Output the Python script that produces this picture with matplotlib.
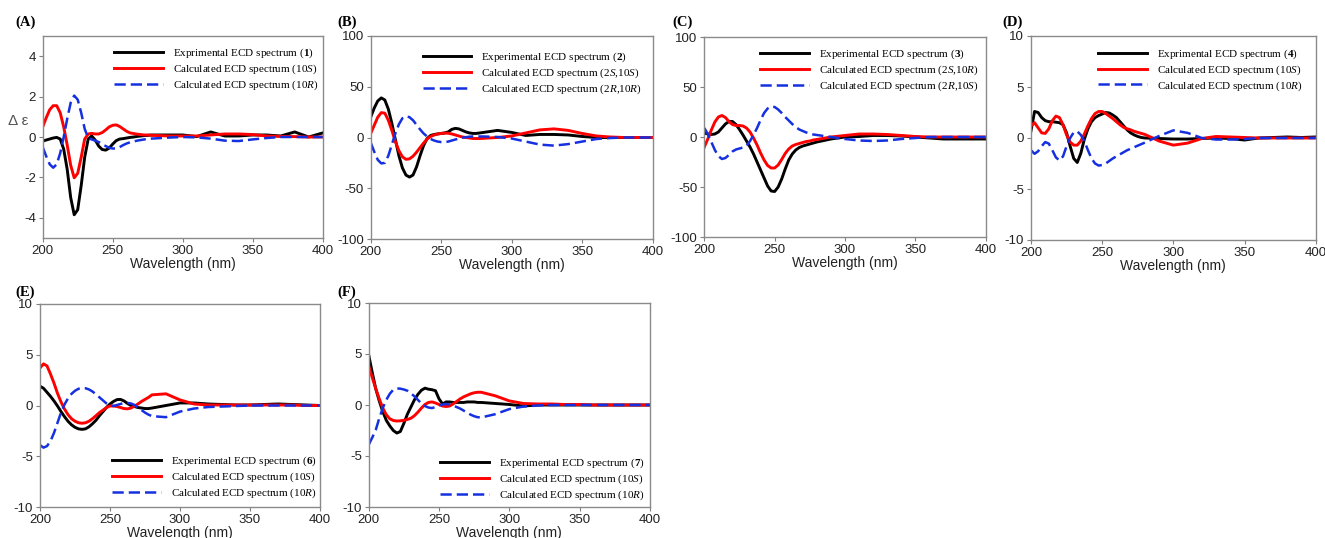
import matplotlib
matplotlib.use('Agg')
import matplotlib.pyplot as plt

plt.rcParams['font.family'] = ['Liberation Sans', 'DejaVu Sans']
plt.rcParams['axes.unicode_minus'] = False
plt.rcParams['mathtext.fontset'] = 'custom'
plt.rcParams['mathtext.rm'] = 'Liberation Serif'
plt.rcParams['mathtext.it'] = 'Liberation Serif:italic'
plt.rcParams['mathtext.bf'] = 'Liberation Serif:bold'

# 파장 격자 (nm)
wavelength = [200, 202.5, 205, 207.5, 210, 212.5, 215, 217.5, 220, 222.5,
              225, 227.5, 230, 232.5, 235, 237.5, 240, 242.5, 245, 247.5,
              250, 252.5, 255, 257.5, 260, 262.5, 265, 267.5, 270, 272.5,
              275, 277.5, 280, 290, 300, 310, 320, 330, 340, 350,
              360, 370, 380, 390, 400]

# (A)
a_exp = [-0.2, -0.15, -0.1, -0.05, -0.02, -0.1, -0.6, -1.6, -3.0, -3.85,
         -3.6, -2.4, -1.0, -0.1, 0.05, -0.15, -0.45, -0.62, -0.65, -0.55,
         -0.35, -0.18, -0.1, -0.08, -0.05, -0.02, 0.0, 0.03, 0.05, 0.07,
         0.08, 0.1, 0.1, 0.1, 0.1, 0.02, 0.25, 0.05, 0.05, 0.1,
         0.1, 0.05, 0.25, 0.0, 0.2]
a_calc_s = [0.5, 0.95, 1.35, 1.55, 1.55, 1.2, 0.5, -0.4, -1.4, -2.02,
            -1.8, -1.0, -0.1, 0.15, 0.18, 0.15, 0.15, 0.22, 0.35, 0.5,
            0.58, 0.6, 0.52, 0.4, 0.28, 0.2, 0.17, 0.14, 0.12, 0.1,
            0.1, 0.08, 0.08, 0.05, 0.05, 0.05, 0.1, 0.15, 0.15, 0.12,
            0.05, 0.03, 0.02, 0.0, 0.0]
a_calc_r = [-0.5, -0.95, -1.35, -1.52, -1.35, -0.8, 0.0, 0.9, 1.7, 2.05,
            1.85, 1.2, 0.4, -0.05, -0.12, -0.18, -0.25, -0.35, -0.45, -0.53,
            -0.57, -0.57, -0.5, -0.4, -0.32, -0.26, -0.22, -0.18, -0.15, -0.12,
            -0.1, -0.08, -0.07, -0.03, 0.0, -0.02, -0.08, -0.18, -0.2, -0.12,
            -0.05, 0.0, 0.0, 0.0, 0.0]

# (B)
b_exp = [20, 29, 36, 39, 37, 28, 14, -2, -18, -30,
         -37, -39, -37, -29, -18, -8, -1, 2, 3, 3.5,
         4, 4.5, 5.5, 8, 9, 8.5, 7, 5.5, 4.5, 4,
         4, 4.5, 5, 7, 5, 2, 3, 3, 2.5, 1,
         0, 0, 0, 0, 0]
b_calc_1 = [4, 12, 20, 24.5, 24, 17, 7, -4, -13, -19,
            -21.5, -21, -18.5, -14.5, -10, -5.5, -1.5, 1, 2.5, 3.5,
            4, 4.3, 4.2, 3.5, 2.5, 1.5, 0.5, 0, -0.5, -1,
            -1, -1, -0.8, 0, 1.5, 4.5, 7.5, 8.5, 7, 4,
            1.5, 0.5, 0, 0, 0]
b_calc_2 = [-5, -14, -22, -25.5, -25, -18, -7, 4, 13, 19,
            21, 20, 17, 12.5, 8, 4, 1, -1.5, -3, -4,
            -4.5, -4.5, -4, -3, -2, -1, -0.3, 0.3, 0.8, 1,
            1, 1, 1, 0.5, -1, -4, -7, -8, -6.5, -4,
            -1.5, -0.5, 0, 0, 0]

# (C)
c_exp = [4, 3, 2.5, 3, 5, 9, 13, 15.5, 15.5, 12.5,
         7.5, 2, -4, -10, -17, -25, -33, -41, -49, -54,
         -54.5, -50, -42, -32, -23, -17, -13, -10.5, -9, -8,
         -7, -6, -5, -2, 0, 0.5, 1.5, 1.5, 1, 0,
         -1, -2, -2, -2, -2]
c_calc_1 = [-10, -2, 7, 15, 20, 21.5, 19.5, 15.5, 12.5, 11.5,
            11.5, 11, 9, 5, -1, -8, -16, -23, -28.5, -31,
            -31, -28, -22.5, -16.5, -12, -9, -7.5, -6.5, -5.5, -4.5,
            -4, -3, -2.5, 0, 1.5, 3, 3, 2.5, 1.5, 0.5,
            0, 0, 0, 0, 0]
c_calc_2 = [9, 3, -5, -13, -19, -22, -21, -18, -14.5, -12.5,
            -11.5, -10.5, -9, -4, 2, 9, 17, 24, 28.5, 30.5,
            30, 27.5, 24, 20, 16.5, 13, 10, 7.5, 6, 4.5,
            3.5, 2.5, 2, 0, -2, -3.5, -4, -3.5, -2, -1,
            0, 0, 0, 0, 0]

# (D)
d_exp = [0.7, 2.6, 2.5, 2.0, 1.7, 1.6, 1.6, 1.55, 1.5, 1.3,
         0.5, -0.8, -2.0, -2.4, -1.5, -0.1, 0.9, 1.6, 2.0, 2.2,
         2.35, 2.5, 2.45, 2.25, 2.0, 1.6, 1.2, 0.8, 0.5, 0.3,
         0.15, 0.05, 0.0, -0.05, -0.1, -0.1, -0.05, 0.0, -0.05, -0.2,
         0.0, 0.05, 0.1, 0.05, 0.1]
d_calc_s = [1.2, 1.5, 1.0, 0.5, 0.45, 0.9, 1.7, 2.15, 2.0, 1.3,
            0.3, -0.4, -0.7, -0.7, -0.3, 0.4, 1.2, 1.9, 2.4, 2.6,
            2.6, 2.4, 2.15, 1.9, 1.6, 1.3, 1.05, 0.9, 0.8, 0.65,
            0.55, 0.45, 0.35, -0.3, -0.7, -0.5, -0.05, 0.15, 0.1, 0.05,
            0.0, 0.0, 0.0, 0.0, 0.0]
d_calc_r = [-1.2, -1.55, -1.3, -0.8, -0.4, -0.55, -1.2, -1.9, -2.2, -1.8,
            -0.8, 0.0, 0.55, 0.65, 0.3, -0.3, -1.2, -2.0, -2.5, -2.7,
            -2.65, -2.5, -2.25, -2.0, -1.8, -1.6, -1.4, -1.2, -1.05, -0.9,
            -0.75, -0.6, -0.45, 0.2, 0.75, 0.5, 0.0, -0.15, -0.15, -0.1,
            0.0, 0.0, 0.0, 0.0, 0.0]

# (E)
e_exp = [1.9, 1.7, 1.3, 0.9, 0.45, -0.05, -0.6, -1.1, -1.55, -1.9,
         -2.15, -2.3, -2.35, -2.3, -2.1, -1.8, -1.45, -1.0, -0.6, -0.2,
         0.15, 0.4, 0.58, 0.6, 0.45, 0.2, 0.0, -0.1, -0.2, -0.25,
         -0.3, -0.3, -0.25, 0.0, 0.25, 0.25, 0.15, 0.1, 0.05, 0.05,
         0.1, 0.15, 0.1, 0.05, 0.0]
e_calc_s = [3.7, 4.1, 3.9, 3.1, 2.2, 1.2, 0.35, -0.35, -0.9, -1.3,
            -1.55, -1.7, -1.75, -1.7, -1.55, -1.3, -1.0, -0.7, -0.45, -0.2,
            -0.05, -0.05, -0.1, -0.2, -0.3, -0.33, -0.25, -0.05, 0.15, 0.4,
            0.6, 0.8, 1.05, 1.15, 0.55, 0.15, 0.05, 0.05, 0.05, 0.05,
            0.05, 0.05, 0.05, 0.0, 0.0]
e_calc_r = [-3.9, -4.15, -4.0, -3.5, -2.7, -1.7, -0.7, 0.1, 0.7, 1.15,
            1.45, 1.65, 1.72, 1.7, 1.58, 1.38, 1.1, 0.8, 0.5, 0.2,
            0.0, -0.05, 0.05, 0.15, 0.25, 0.25, 0.2, 0.05, -0.2, -0.45,
            -0.7, -0.9, -1.05, -1.15, -0.6, -0.3, -0.15, -0.1, -0.05, 0.0,
            0.0, 0.0, 0.0, 0.0, 0.0]

# (F)
f_exp = [4.9, 3.2, 1.6, 0.4, -0.65, -1.5, -2.05, -2.5, -2.75, -2.6,
         -1.8, -0.9, -0.2, 0.5, 1.05, 1.45, 1.65, 1.55, 1.5, 1.4,
         0.6, 0.1, 0.3, 0.3, 0.25, 0.25, 0.25, 0.25, 0.3, 0.3,
         0.3, 0.25, 0.25, 0.15, 0.05, -0.1, 0.0, 0.0, 0.0, 0.0,
         0.0, 0.0, 0.0, 0.0, 0.0]
f_calc_s = [3.8, 2.7, 1.6, 0.6, -0.3, -0.95, -1.35, -1.52, -1.57, -1.55,
            -1.5, -1.42, -1.3, -1.05, -0.7, -0.3, 0.05, 0.25, 0.3, 0.2,
            0.05, -0.1, -0.15, -0.1, 0.1, 0.35, 0.6, 0.8, 0.95, 1.1,
            1.2, 1.25, 1.25, 0.9, 0.4, 0.15, 0.1, 0.1, 0.05, 0.05,
            0.0, 0.0, 0.0, 0.0, 0.0]
f_calc_r = [-3.9, -3.2, -2.45, -1.3, -0.3, 0.5, 1.1, 1.5, 1.63, 1.6,
            1.52, 1.4, 1.15, 0.85, 0.5, 0.15, -0.1, -0.25, -0.3, -0.2,
            -0.05, 0.05, 0.1, 0.05, -0.05, -0.2, -0.35, -0.55, -0.75, -0.95,
            -1.1, -1.2, -1.22, -0.9, -0.4, -0.15, -0.05, 0.0, 0.0, 0.0,
            0.0, 0.0, 0.0, 0.0, 0.0]

# 패널 정보: 라벨, 곡선, 범례, y 범위, y 눈금
panels = [
    ('(A)', (a_exp, a_calc_s, a_calc_r),
     ['Exprimental ECD spectrum ($\\bf{1}$)',
      'Calculated ECD spectrum (10$\\it{S}$)',
      'Calculated ECD spectrum (10$\\it{R}$)'],
     (-5, 5), [-4, -2, 0, 2, 4]),
    ('(B)', (b_exp, b_calc_1, b_calc_2),
     ['Experimental ECD spectrum ($\\bf{2}$)',
      'Calculated ECD spectrum (2$\\it{S}$,10$\\it{S}$)',
      'Calculated ECD spectrum (2$\\it{R}$,10$\\it{R}$)'],
     (-100, 100), [-100, -50, 0, 50, 100]),
    ('(C)', (c_exp, c_calc_1, c_calc_2),
     ['Experimental ECD spectrum ($\\bf{3}$)',
      'Calculated ECD spectrum (2$\\it{S}$,10$\\it{R}$)',
      'Calculated ECD spectrum (2$\\it{R}$,10$\\it{S}$)'],
     (-100, 100), [-100, -50, 0, 50, 100]),
    ('(D)', (d_exp, d_calc_s, d_calc_r),
     ['Exprimental ECD spectrum ($\\bf{4}$)',
      'Calculated ECD spectrum (10$\\it{S}$)',
      'Calculated ECD spectrum (10$\\it{R}$)'],
     (-10, 10), [-10, -5, 0, 5, 10]),
    ('(E)', (e_exp, e_calc_s, e_calc_r),
     ['Experimental ECD spectrum ($\\bf{6}$)',
      'Calculated ECD spectrum (10$\\it{S}$)',
      'Calculated ECD spectrum (10$\\it{R}$)'],
     (-10, 10), [-10, -5, 0, 5, 10]),
    ('(F)', (f_exp, f_calc_s, f_calc_r),
     ['Experimental ECD spectrum ($\\bf{7}$)',
      'Calculated ECD spectrum (10$\\it{S}$)',
      'Calculated ECD spectrum (10$\\it{R}$)'],
     (-10, 10), [-10, -5, 0, 5, 10]),
]

W, H = 1325, 538
# 축 위치 (픽셀: 왼쪽, 위, 오른쪽, 아래)
boxes = [(42.7, 36, 322.7, 238), (370.7, 36, 652.7, 239),
         (704.3, 37, 985.7, 237), (1031, 36, 1315.7, 240),
         (40, 304, 320, 507), (368.7, 303, 650, 507)]
legend_pos = [(0.255, 0.946), (0.184, 0.928), (0.199, 0.948),
              (0.234, 0.945), (0.256, 0.258), (0.254, 0.247)]
label_pos = [(15, 22), (337, 22), (672, 22), (1002, 22), (15, 292), (337, 292)]

fig = plt.figure(figsize=(W / 100, H / 100), dpi=100)
fig.patch.set_facecolor('white')

for i, (tag, curves, labels, ylim, yticks) in enumerate(panels):
    l, t, r, b = boxes[i]
    ax = fig.add_axes([l / W, 1 - b / H, (r - l) / W, (b - t) / H])
    exp, calc1, calc2 = curves
    ax.plot(wavelength, exp, color='black', lw=2.1, label=labels[0])
    ax.plot(wavelength, calc1, color='#ff0000', lw=2.1, label=labels[1])
    ax.plot(wavelength, calc2, color='#1530e0', lw=1.8,
            dashes=(4.5, 2.0), label=labels[2])
    ax.set_xlim(200, 400)
    ax.set_ylim(*ylim)
    ax.set_xticks([200, 250, 300, 350, 400])
    ax.set_yticks(yticks)
    ax.tick_params(direction='out', length=3, width=0.8, color='#808080',
                   labelsize=9.5, labelcolor='#222222', pad=2)
    for sp in ax.spines.values():
        sp.set_color('#8a8a8a')
        sp.set_linewidth(1.0)
    ax.set_xlabel('Wavelength (nm)', fontsize=10, color='#222222',
                  labelpad=0)
    ax.legend(loc='upper left', bbox_to_anchor=legend_pos[i], frameon=False,
              borderpad=0, borderaxespad=0, handlelength=4.4,
              handletextpad=0.9, labelspacing=0.22,
              prop={'family': 'Liberation Serif', 'size': 8})
    x, y = label_pos[i]
    fig.text(x / W, 1 - y / H, tag, fontsize=10.5, fontweight='bold',
             family='Liberation Serif', va='center', ha='left')

fig.text(18 / W, 1 - 121 / H, 'Δ ε', fontsize=11, color='#555555',
         va='center', ha='center')

fig.savefig('out.png', dpi=100)
